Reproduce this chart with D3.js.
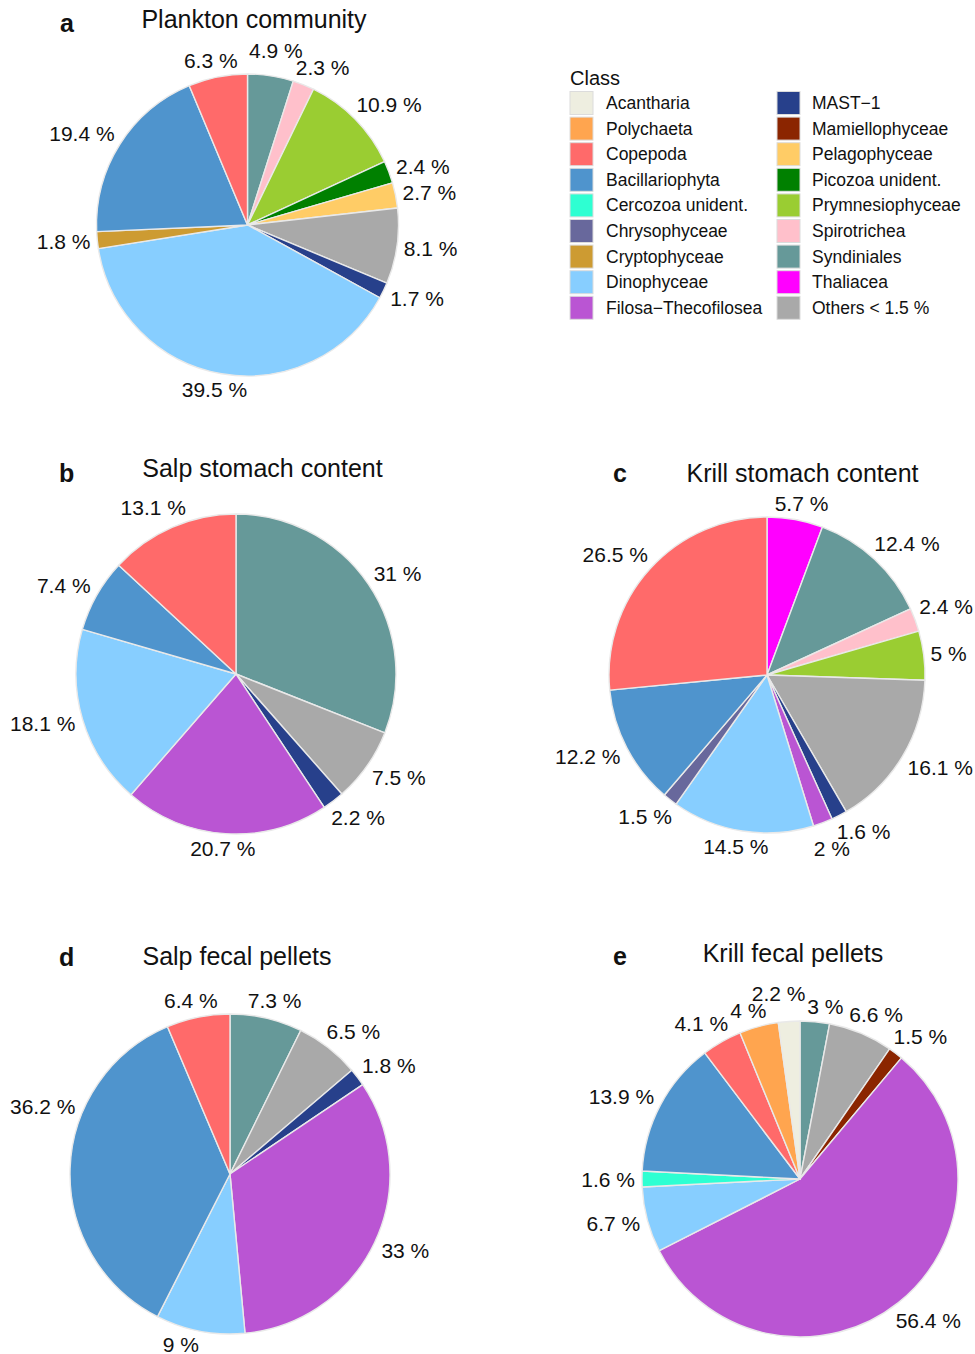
<!DOCTYPE html>
<html><head><meta charset="utf-8">
<script src="https://cdn.jsdelivr.net/npm/d3@7"></script>
<style>
body{margin:0;background:#fff}
svg text{font-family:"Liberation Sans",Arial,Helvetica,sans-serif;fill:#111}
</style>
</head><body>
<svg id="chart" width="975" height="1354"></svg>
<script>
// ---------- DATA ----------
const classNames = ["Acantharia","Polychaeta","Copepoda","Bacillariophyta","Cercozoa unident.","Chrysophyceae","Cryptophyceae","Dinophyceae","Filosa\u2212Thecofilosea","MAST\u22121","Mamiellophyceae","Pelagophyceae","Picozoa unident.","Prymnesiophyceae","Spirotrichea","Syndiniales","Thaliacea","Others < 1.5 %"];
const classColors = ["#EEEEE0","#FFA54F","#FF6A6A","#4F94CD","#2EFFD2","#68689C","#CD9B32","#87CEFF","#BA55D3","#27408B","#8B2500","#FFCC66","#008000","#9ACD32","#FFC0CB","#669999","#FF00FF","#A9A9A9"];

// slices listed clockwise from 12 o'clock
const planktonClasses = ["Syndiniales","Spirotrichea","Prymnesiophyceae","Picozoa unident.","Pelagophyceae","Others < 1.5 %","MAST\u22121","Dinophyceae","Cryptophyceae","Bacillariophyta","Copepoda"];
const planktonValues  = [4.9, 2.3, 10.9, 2.4, 2.7, 8.1, 1.7, 39.5, 1.8, 19.4, 6.3];

const salpStomachClasses = ["Syndiniales","Others < 1.5 %","MAST\u22121","Filosa\u2212Thecofilosea","Dinophyceae","Bacillariophyta","Copepoda"];
const salpStomachValues  = [31, 7.5, 2.2, 20.7, 18.1, 7.4, 13.1];

const krillStomachClasses = ["Thaliacea","Syndiniales","Spirotrichea","Prymnesiophyceae","Others < 1.5 %","MAST\u22121","Filosa\u2212Thecofilosea","Dinophyceae","Chrysophyceae","Bacillariophyta","Copepoda"];
const krillStomachValues  = [5.7, 12.4, 2.4, 5, 16.1, 1.6, 2, 14.5, 1.5, 12.2, 26.5];

const salpFecalClasses = ["Syndiniales","Others < 1.5 %","MAST\u22121","Filosa\u2212Thecofilosea","Dinophyceae","Bacillariophyta","Copepoda"];
const salpFecalValues  = [7.3, 6.5, 1.8, 33, 9, 36.2, 6.4];

const krillFecalClasses = ["Syndiniales","Others < 1.5 %","Mamiellophyceae","Filosa\u2212Thecofilosea","Dinophyceae","Cercozoa unident.","Bacillariophyta","Copepoda","Polychaeta","Acantharia"];
const krillFecalValues  = [3, 6.6, 1.5, 56.4, 6.7, 1.6, 13.9, 4.1, 4, 2.2];

// ---------- LAYOUT ----------
const panels = [
  {letter:"a", title:"Plankton community",   classes:planktonClasses,     values:planktonValues,     cx:247.5, cy:225,  r:151, tx:254,   ty:28,  lx:60,  ly:32},
  {letter:"b", title:"Salp stomach content", classes:salpStomachClasses,  values:salpStomachValues,  cx:236,   cy:674,  r:160, tx:262.5, ty:477, lx:59,  ly:482},
  {letter:"c", title:"Krill stomach content",classes:krillStomachClasses, values:krillStomachValues, cx:767,   cy:675,  r:158, tx:802.5, ty:482, lx:613, ly:482},
  {letter:"d", title:"Salp fecal pellets",   classes:salpFecalClasses,    values:salpFecalValues,    cx:230,   cy:1174, r:160, tx:237,   ty:965, lx:59,  ly:966},
  {letter:"e", title:"Krill fecal pellets",  classes:krillFecalClasses,   values:krillFecalValues,   cx:800,   cy:1179, r:158, tx:793,   ty:962, lx:613, ly:965}
];
const bounds = {x0: 10, x1: 973, y1: 1352};

const color = d3.scaleOrdinal().domain(classNames).range(classColors);
const svg = d3.select("#chart");
const fmt = v => String(v) + " %";

panels.forEach(p => {
  const data = p.classes.map((c,i) => ({cls:c, value:p.values[i]}));
  const pie = d3.pie().sort(null).value(d => d.value);
  const arcs = pie(data);
  const arc = d3.arc().innerRadius(0).outerRadius(p.r);
  const g = svg.append("g").attr("transform", `translate(${p.cx},${p.cy})`);
  g.selectAll("path").data(arcs).join("path")
    .attr("d", arc)
    .attr("fill", d => color(d.data.cls))
    .attr("stroke", "#e9e9e9")
    .attr("stroke-width", 1.4)
    .attr("stroke-linejoin", "round");

  // labels with simple repel
  const gap = 7, h = 16, pad = 2;
  const labs = arcs.map(d => {
    const a = (d.startAngle + d.endAngle) / 2;
    const t = g.append("text").attr("font-size", 21).attr("text-anchor","middle").text(fmt(d.data.value));
    const w = t.node().getComputedTextLength();
    const s = Math.sin(a), c = -Math.cos(a);
    const ix = (p.r + gap) * s + s * w / 2;
    const iy = (p.r + gap) * c + c * h / 2;
    return {t, w, s, c, ix, iy, x: ix, y: iy};
  });
  const need = p.r + gap - 1;
  for (let it = 0; it < 600; it++) {
    for (let i = 0; i < labs.length; i++) {
      for (let j = i + 1; j < labs.length; j++) {
        const A = labs[i], B = labs[j];
        const ox = (A.w + B.w) / 2 + pad - Math.abs(A.x - B.x);
        const oy = h + pad - Math.abs(A.y - B.y);
        if (ox > 0 && oy > 0) {
          if (ox < oy) {
            const sgn = A.x < B.x ? -1 : 1;
            A.x += sgn * ox * 0.25; B.x -= sgn * ox * 0.25;
          } else {
            const sgn = A.y < B.y ? -1 : 1;
            A.y += sgn * oy * 0.25; B.y -= sgn * oy * 0.25;
          }
        }
      }
    }
    labs.forEach(L => {
      L.x += (L.ix - L.x) * 0.01;
      L.y += (L.iy - L.y) * 0.01;
      // keep outside circle (radial push)
      let nx = Math.max(L.x - L.w/2, Math.min(0, L.x + L.w/2));
      let ny = Math.max(L.y - h/2, Math.min(0, L.y + h/2));
      let dist = Math.hypot(nx, ny);
      if (dist < need) {
        const len = Math.hypot(L.x, L.y) || 1;
        const push = (need - dist) * 0.5;
        L.x += L.x / len * push; L.y += L.y / len * push;
      }
      // keep inside canvas
      let clamped = false;
      const minX = bounds.x0 - p.cx + L.w/2, maxX = bounds.x1 - p.cx - L.w/2;
      if (L.x < minX) { L.x = minX; clamped = true; }
      if (L.x > maxX) { L.x = maxX; clamped = true; }
      const maxY = bounds.y1 - p.cy - h/2;
      if (L.y > maxY) L.y = maxY;
      if (clamped) {
        nx = Math.max(L.x - L.w/2, Math.min(0, L.x + L.w/2));
        if (Math.abs(nx) < need) {
          const reqY = Math.sqrt(need*need - nx*nx);
          const dir = (L.iy !== 0 ? Math.sign(L.iy) : -1);
          const target = dir * (reqY + h/2);
          if (Math.abs(L.y) < Math.abs(target) || Math.sign(L.y) !== dir) {
            L.y += (target - L.y) * 0.5;
          }
        }
      }
    });
  }
  labs.forEach(L => L.t.attr("x", L.x).attr("y", L.y + 7.5));

  svg.append("text").attr("x", p.tx).attr("y", p.ty).attr("text-anchor","middle")
    .attr("font-size", 25).text(p.title);
  svg.append("text").attr("x", p.lx).attr("y", p.ly).attr("font-size", 25)
    .attr("font-weight","bold").text(p.letter);
});

// ---------- LEGEND ----------
const leg = svg.append("g");
leg.append("text").attr("x", 570).attr("y", 85).attr("font-size", 20).text("Class");
const perCol = 9, rowH = 25.6, y0 = 103;
const colKeyX = [570, 777], colTextX = [606, 812];
classNames.forEach((name, i) => {
  const col = Math.floor(i / perCol), row = i % perCol;
  const cy = y0 + row * rowH;
  leg.append("rect").attr("x", colKeyX[col]).attr("y", cy - 11.5).attr("width", 23).attr("height", 23)
    .attr("fill", color(name)).attr("stroke", "#dcdcdc").attr("stroke-width", 1);
  leg.append("text").attr("x", colTextX[col]).attr("y", cy + 6).attr("font-size", 17.5).text(name);
});
</script>
</body></html>
